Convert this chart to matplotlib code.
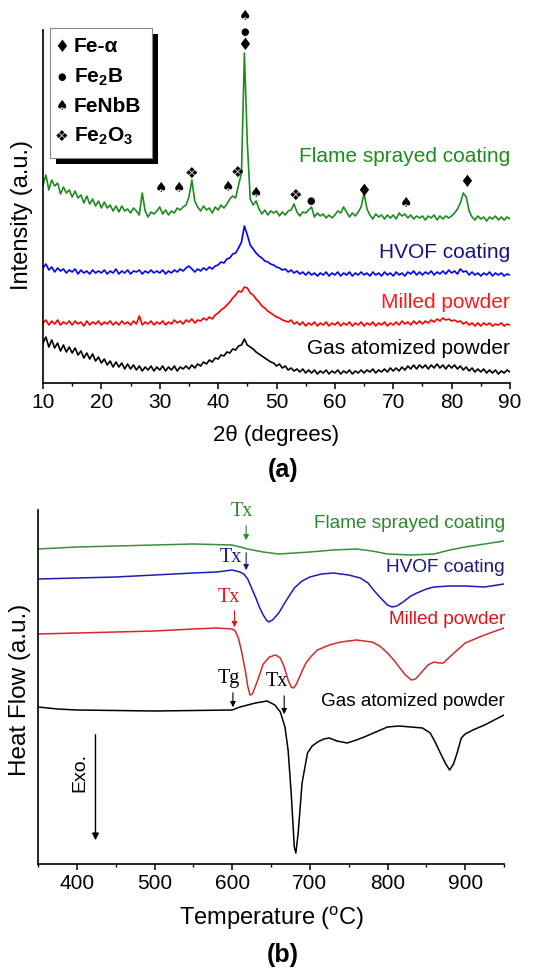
import numpy as np
import matplotlib
matplotlib.use("Agg")
import matplotlib.pyplot as plt
from matplotlib.patches import Rectangle
from matplotlib.ticker import MultipleLocator

plt.rcParams['font.family'] = ['Liberation Sans', 'DejaVu Sans']
plt.rcParams['mathtext.fontset'] = 'custom'
plt.rcParams['mathtext.rm'] = 'Liberation Sans'
plt.rcParams['mathtext.bf'] = 'Liberation Sans:bold'
plt.rcParams['mathtext.it'] = 'Liberation Sans:italic'

# ---- (a) XRD patterns, 2theta from 10 to 90 in 0.5 deg steps (offset, a.u.) ----
two_theta = np.arange(10, 90.01, 0.5)

xrd_flame = [
    198, 208, 193, 203, 197, 200, 189, 196, 190, 193,
    186, 192, 185, 188, 180, 187, 179, 184, 177, 182,
    175, 181, 175, 178, 172, 177, 171, 177, 172, 174,
    170, 175, 172, 168, 190, 172, 166, 171, 169, 172,
    176, 169, 173, 168, 172, 170, 175, 173, 176, 178,
    186, 203, 182, 176, 172, 177, 173, 175, 170, 176,
    173, 178, 175, 179, 184, 187, 185, 198, 210, 330,
    240, 184, 178, 182, 174, 169, 173, 168, 172, 170,
    172, 167, 171, 168, 172, 173, 179, 171, 167, 171,
    170, 173, 176, 166, 170, 167, 169, 165, 168, 165,
    168, 172, 170, 176, 171, 166, 170, 167, 171, 176,
    190, 174, 168, 164, 169, 166, 168, 164, 168, 165,
    168, 164, 170, 167, 169, 165, 168, 164, 167, 165,
    167, 163, 167, 165, 168, 163, 167, 164, 167, 165,
    167, 170, 174, 180, 190, 186, 172, 166, 163, 167,
    164, 166, 162, 166, 164, 167, 163, 166, 163, 166,
    164]

xrd_hvof = [
    115, 119, 113, 116, 111, 115, 112, 114, 110, 113,
    111, 114, 109, 113, 110, 112, 109, 113, 110, 112,
    110, 113, 109, 112, 110, 114, 109, 112, 110, 113,
    109, 112, 111, 113, 109, 112, 110, 113, 110, 112,
    110, 113, 109, 112, 110, 113, 111, 114, 112, 115,
    117, 114, 111, 114, 112, 115, 113, 116, 114, 117,
    118, 121, 120, 124, 125, 129, 130, 135, 141, 157,
    148, 138, 134, 130, 127, 125, 122, 121, 119, 118,
    116, 115, 113, 114, 111, 113, 110, 112, 109, 111,
    108, 111, 108, 110, 107, 110, 108, 111, 107, 110,
    108, 111, 107, 110, 108, 111, 107, 110, 108, 111,
    108, 110, 107, 111, 108, 110, 107, 111, 108, 110,
    107, 111, 108, 110, 107, 111, 109, 112, 108, 111,
    108, 111, 109, 112, 108, 111, 109, 112, 109, 113,
    110, 112, 109, 114, 111, 112, 108, 111, 108, 110,
    107, 110, 108, 111, 107, 110, 108, 110, 107, 109,
    108]

xrd_milled = [
    60, 63, 58, 62, 59, 63, 58, 61, 59, 62,
    58, 62, 59, 61, 57, 62, 58, 61, 59, 62,
    58, 61, 59, 62, 58, 61, 58, 62, 59, 61,
    58, 62, 59, 67, 58, 61, 59, 62, 58, 61,
    59, 62, 58, 61, 59, 63, 60, 62, 59, 63,
    61, 64, 60, 63, 62, 65, 63, 66, 64, 68,
    70, 73, 75, 78, 81, 85, 88, 92, 91, 96,
    95, 90, 88, 84, 81, 77, 75, 72, 70, 68,
    66, 65, 63, 62, 61, 63, 59, 61, 58, 61,
    57, 60, 58, 61, 57, 60, 58, 61, 57, 60,
    58, 61, 57, 60, 58, 61, 57, 60, 58, 61,
    57, 60, 58, 61, 57, 60, 58, 61, 57, 60,
    58, 61, 58, 62, 59, 61, 58, 62, 59, 62,
    59, 62, 60, 63, 61, 64, 62, 65, 63, 64,
    62, 63, 61, 62, 59, 61, 58, 60, 57, 60,
    57, 60, 58, 60, 57, 59, 58, 60, 57, 59,
    58]

xrd_gas = [
    40, 46, 36, 43, 35, 40, 32, 38, 31, 36,
    30, 35, 28, 32, 25, 30, 24, 29, 22, 26,
    20, 24, 18, 22, 16, 21, 16, 20, 14, 19,
    14, 18, 13, 17, 12, 16, 13, 17, 12, 16,
    13, 17, 12, 16, 13, 17, 12, 16, 14, 17,
    14, 18, 15, 19, 17, 21, 19, 23, 21, 25,
    24, 28, 27, 31, 30, 34, 33, 37, 38, 44,
    38, 36, 34, 31, 29, 27, 25, 23, 21, 20,
    17, 19, 15, 17, 13, 15, 12, 14, 11, 14,
    10, 13, 10, 13, 9, 12, 10, 13, 9, 12,
    10, 13, 9, 12, 10, 13, 9, 12, 10, 13,
    10, 13, 11, 14, 10, 13, 11, 14, 11, 15,
    12, 15, 12, 16, 13, 17, 14, 18, 14, 18,
    15, 18, 14, 18, 15, 19, 15, 18, 14, 18,
    15, 18, 14, 17, 13, 16, 12, 15, 11, 14,
    11, 14, 10, 13, 10, 13, 9, 12, 10, 13,
    11]

# phase identification marks
peak_2theta = [44.6, 44.6, 44.6, 30.2, 33.3, 35.4, 41.7, 43.3, 46.5, 53.3, 55.9, 64.9, 72.2, 82.6]
peak_height = [338, 351, 367, 195, 195, 210, 196, 211, 190, 188, 182, 192, 180, 201]
peak_phase = ['Fe-α', 'Fe2B', 'FeNbB', 'FeNbB', 'FeNbB', 'Fe2O3', 'FeNbB', 'Fe2O3',
              'FeNbB', 'Fe2O3', 'Fe2B', 'Fe-α', 'FeNbB', 'Fe-α']

# ---- (b) DSC curves (offset, a.u.) ----
dsc_T_flame = [350, 400, 450, 500, 550, 600, 620, 640, 660, 680, 700, 730, 760, 780, 800, 830, 860, 880, 900, 950]
dsc_flame = [315, 317, 318, 319, 320, 319, 315, 312, 310, 311, 312, 314, 315, 313, 310, 309, 310, 314, 317, 323]

dsc_T_hvof = [350, 400, 450, 500, 550, 580, 600, 610, 615, 620, 625, 630, 635, 640, 644, 647, 652, 660, 670,
              680, 690, 700, 715, 730, 750, 765, 775, 782, 790, 800, 806, 812, 820, 830, 838, 850, 860, 880,
              900, 925, 950]
dsc_hvof = [285, 286, 287, 289, 291, 292, 294, 292, 290, 285, 276, 267, 257, 249, 244, 242, 244, 251, 264,
            276, 283, 287, 290, 291, 289, 286, 281, 274, 267, 259, 257, 258, 262, 268, 271, 275, 277, 278,
            278, 277, 280]

dsc_T_milled = [350, 400, 450, 500, 550, 580, 600, 604, 608, 612, 617, 620, 623, 626, 632, 640, 648, 656, 662,
                667, 672, 676, 679, 682, 685, 690, 695, 702, 710, 725, 740, 760, 780, 790, 800, 808, 815, 823,
                831, 836, 842, 852, 860, 866, 872, 880, 890, 900, 925, 950]
dsc_milled = [230, 231, 232, 233, 235, 236, 235, 233, 226, 213, 193, 178, 169, 170, 182, 200, 207, 209, 206,
              197, 184, 177, 176, 179, 184, 193, 201, 208, 214, 219, 222, 224, 222, 218, 211, 204, 197, 189,
              184, 185, 190, 199, 202, 201, 201, 207, 214, 221, 229, 236]

dsc_T_gas = [350, 375, 400, 500, 600, 610, 620, 630, 645, 655, 662, 668, 672, 676, 680, 682, 685, 690, 697,
             703, 710, 718, 725, 735, 748, 760, 770, 785, 800, 815, 830, 845, 855, 862, 868, 875, 880, 885,
             890, 895, 900, 910, 925, 940, 950]
dsc_gas = [157, 155, 154, 153, 154, 157, 159, 161, 163, 159, 152, 137, 114, 71, 17, 11, 31, 81, 111,
           118, 122, 125, 126, 123, 121, 124, 127, 132, 137, 138, 137, 136, 131, 121, 111, 100, 94, 100,
           112, 126, 130, 134, 139, 145, 149]

W, H = 533, 968
fig = plt.figure(figsize=(W / 100, H / 100), dpi=100)


def px(x, y):
    return x / W, 1 - y / H


def style_axes(ax):
    for s in ['top', 'right']:
        ax.spines[s].set_visible(False)
    for s in ['left', 'bottom']:
        ax.spines[s].set_linewidth(1.2)
    ax.set_yticks([])
    ax.tick_params(axis='x', which='major', direction='out', length=4, width=1.1, labelsize=15, pad=3)
    ax.tick_params(axis='x', which='minor', direction='out', length=2.5, width=1.0)


# ---------------- panel (a) ----------------
ax1 = fig.add_axes([43 / W, 1 - 383 / H, 467 / W, 353 / H])
style_axes(ax1)
ax1.plot(two_theta, xrd_flame, color='#1f8a1f', lw=1.2)
ax1.plot(two_theta, xrd_hvof, color='#0000ff', lw=1.2)
ax1.plot(two_theta, xrd_milled, color='#ff0000', lw=1.2)
ax1.plot(two_theta, xrd_gas, color='black', lw=1.2)
ax1.set_xlim(10, 90)
ax1.set_ylim(0, 353)
ax1.xaxis.set_major_locator(MultipleLocator(10))
ax1.xaxis.set_minor_locator(MultipleLocator(5))

symbols = {'Fe-α': ('♦', 12), 'Fe2B': ('●', 7), 'FeNbB': ('♠', 10), 'Fe2O3': ('❖', 11)}
for x, y, ph in zip(peak_2theta, peak_height, peak_phase):
    sym, fs = symbols[ph]
    ax1.text(x, y, sym, fontsize=fs, family='DejaVu Sans', ha='center', va='center', clip_on=False)

fig.text(*px(510, 157), 'Flame sprayed coating', color='#1e8c1e', fontsize=15, ha='right', va='center')
fig.text(*px(510, 252), 'HVOF coating', color='#14147f', fontsize=15, ha='right', va='center')
fig.text(*px(510, 302), 'Milled powder', color='#ff1a1a', fontsize=15, ha='right', va='center')
fig.text(*px(510, 348), 'Gas atomized powder', color='black', fontsize=15, ha='right', va='center')

# legend box with shadow
fig.patches.append(Rectangle(px(56, 164), 102 / W, 130 / H, transform=fig.transFigure,
                             facecolor='black', edgecolor='none', zorder=5))
fig.patches.append(Rectangle(px(50, 158), 102 / W, 130 / H, transform=fig.transFigure,
                             facecolor='white', edgecolor='#888888', lw=0.8, zorder=6))
leg_items = [('♦', 12, 'Fe-α', 47), ('●', 7, r'$\mathbf{Fe_2B}$', 77),
             ('♠', 10, 'FeNbB', 106), ('❖', 11, r'$\mathbf{Fe_2O_3}$', 136)]
for sym, fs, lab, yy in leg_items:
    fig.text(*px(62, yy), sym, fontsize=fs, family='DejaVu Sans', ha='center', va='center', zorder=7)
    fig.text(*px(74, yy), lab, fontsize=15, fontweight='bold', ha='left', va='center', zorder=7)

fig.text(*px(22, 215), 'Intensity (a.u.)', fontsize=17, rotation=90, ha='center', va='center')
fig.text(*px(276, 436), '2θ (degrees)', fontsize=16, ha='center', va='center')
fig.text(*px(283, 470), '(a)', fontsize=18, fontweight='bold', ha='center', va='center')

# ---------------- panel (b) ----------------
ax2 = fig.add_axes([38 / W, 1 - 864 / H, 466 / W, 354 / H])
style_axes(ax2)
ax2.plot(dsc_T_flame, dsc_flame, color='#3a8f3a', lw=1.1)
ax2.plot(dsc_T_hvof, dsc_hvof, color='#1c1cb4', lw=1.1)
ax2.plot(dsc_T_milled, dsc_milled, color='#d42a2a', lw=1.1)
ax2.plot(dsc_T_gas, dsc_gas, color='black', lw=1.1)
ax2.set_xlim(350, 950)
ax2.set_ylim(0, 354)
ax2.xaxis.set_major_locator(MultipleLocator(100))
ax2.xaxis.set_minor_locator(MultipleLocator(50))

fig.text(*px(505, 523), 'Flame sprayed coating', color='#2a8a2a', fontsize=13.7, ha='right', va='center')
fig.text(*px(505, 568), 'HVOF coating', color='#1a1a80', fontsize=13.7, ha='right', va='center')
fig.text(*px(505, 620), 'Milled powder', color='#e01414', fontsize=13.7, ha='right', va='center')
fig.text(*px(505, 702), 'Gas atomized powder', color='black', fontsize=13.7, ha='right', va='center')


def mark(ax, label, tx, ty, ax_x, y0, y1, color):
    ax.text(tx, ty, label, color=color, fontsize=14.5, family='Liberation Serif', ha='center', va='center')
    ax.annotate('', xy=(ax_x, y1), xytext=(ax_x, y0),
                arrowprops=dict(arrowstyle='-|>', color=color, lw=0.8, mutation_scale=8))


mark(ax2, 'Tx', 613, 352, 618, 341, 321, '#2a8a2a')
mark(ax2, 'Tx', 598, 307, 618, 314, 291, '#1a1a80')
mark(ax2, 'Tx', 596, 266, 603, 256, 234, '#e01414')
mark(ax2, 'Tg', 596, 186, 601, 174, 154, 'black')
mark(ax2, 'Tx', 658, 182, 667, 171, 147, 'black')

ax2.text(404, 91, 'Exo.', fontsize=14, rotation=90, ha='center', va='center')
ax2.annotate('', xy=(424, 21), xytext=(424, 132),
             arrowprops=dict(arrowstyle='-|>', color='black', lw=1.0, mutation_scale=10))

fig.text(*px(20, 690), 'Heat Flow (a.u.)', fontsize=17.5, rotation=90, ha='center', va='center')
fig.text(*px(272, 918), r'Temperature ($^{\mathrm{o}}$C)', fontsize=17, ha='center', va='center')
fig.text(*px(283, 955), '(b)', fontsize=18, fontweight='bold', ha='center', va='center')

fig.savefig('out.png', dpi=100)
